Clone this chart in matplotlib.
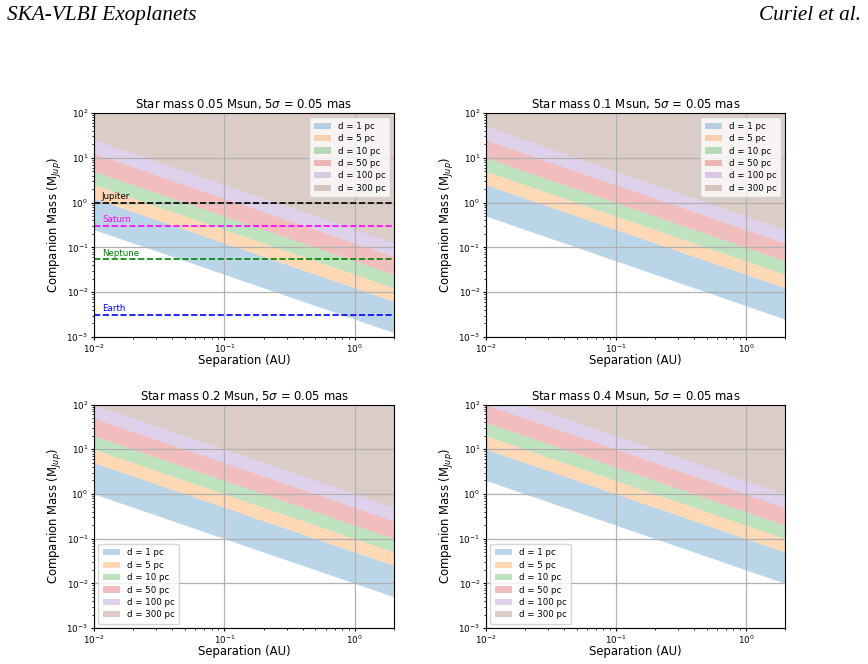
import matplotlib
matplotlib.use("Agg")
import matplotlib.pyplot as plt
import numpy as np

# ---- data ----
star_masses = ["0.05", "0.1", "0.2", "0.4"]            # Msun (titles)
sep_ends = [0.01, 2.0]                                  # AU, x extent of bands
# lowest detectable mass (d = 1 pc curve) at the two separation ends, per panel
base_left = [0.25, 0.5, 1.0, 2.0]
base_right = [0.00125, 0.0025, 0.005, 0.01]
# band edges relative to the d = 1 pc curve (as seen in the picture)
band_factors = [1, 5, 10, 20, 50, 100]
band_labels = ["d = 1 pc", "d = 5 pc", "d = 10 pc", "d = 50 pc", "d = 100 pc", "d = 300 pc"]
band_colors = ["tab:blue", "tab:orange", "tab:green", "tab:red", "tab:purple", "tab:brown"]
top_mass = 1e2

planet_names = ["Jupiter", "Saturn", "Neptune", "Earth"]
planet_masses = [1.0, 0.3, 0.054, 0.00315]
planet_colors = ["black", "magenta", "green", "blue"]

legend_locs = ["upper right", "upper right", "lower left", "lower left"]

fig = plt.figure(figsize=(8.68, 6.64), dpi=100)

positions = [
    [0.1083, 0.4925, 0.3456, 0.3373],
    [0.5599, 0.4925, 0.3445, 0.3373],
    [0.1083, 0.0542, 0.3456, 0.3365],
    [0.5599, 0.0542, 0.3445, 0.3365],
]

for i, pos in enumerate(positions):
    ax = fig.add_axes(pos)
    ax.set_xscale("log")
    ax.set_yscale("log")
    x = np.array(sep_ends)
    nb = len(band_factors)
    for j in range(nb):
        lo = np.array([base_left[i], base_right[i]]) * band_factors[j]
        if j + 1 < nb:
            hi = np.array([base_left[i], base_right[i]]) * band_factors[j + 1]
        else:
            hi = np.array([top_mass, top_mass]) * 10
        ax.fill_between(x, lo, hi, color=band_colors[j], alpha=0.3,
                        linewidth=0, label=band_labels[j])
    if i == 0:
        for name, m, c in zip(planet_names, planet_masses, planet_colors):
            ax.axhline(m, color=c, linestyle="--", linewidth=1.2)
            ax.text(0.0115, m * 1.1, name, color=c, fontsize=6.3,
                    va="bottom", ha="left")
    ax.set_xlim(0.01, 2)
    ax.set_ylim(1e-3, 1e2)
    ax.grid(True, which="major", color="#b0b0b0", linewidth=0.9)
    ax.tick_params(labelsize=6.3, length=2.2, pad=2, width=0.8)
    ax.tick_params(which="minor", length=1.3, width=0.6)
    ax.set_title(f"Star mass {star_masses[i]} Msun, 5$\\sigma$ = 0.05 mas", fontsize=8.4, pad=3.5)
    ax.set_xlabel("Separation (AU)", fontsize=8.4)
    ax.set_ylabel("Companion Mass (M$_{Jup}$)", fontsize=8.4)
    ax.yaxis.set_label_coords(-0.10, 0.5)
    ax.xaxis.set_label_coords(0.5, -0.076)
    ax.legend(loc=legend_locs[i], fontsize=6.2, handlelength=2.0,
              labelspacing=0.4, borderpad=0.5)

fig.text(0.008, 0.976, "SKA-VLBI Exoplanets", family="Liberation Serif",
         style="italic", fontsize=15.3, ha="left", va="center")
fig.text(0.992, 0.976, "Curiel et al.", family="Liberation Serif",
         style="italic", fontsize=15.3, ha="right", va="center")

fig.savefig("out.png", dpi=100)
